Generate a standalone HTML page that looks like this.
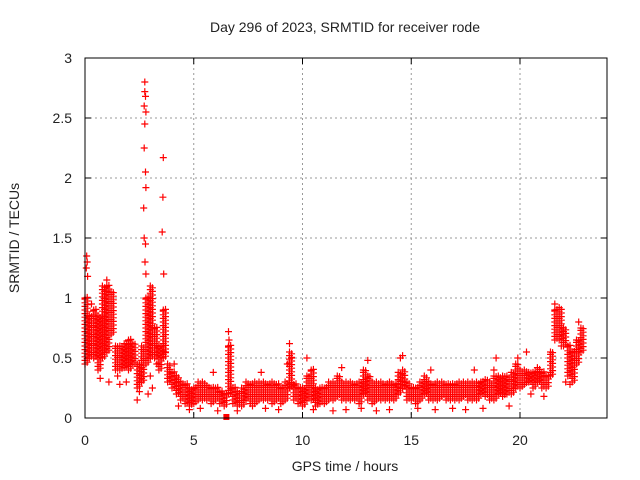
<!DOCTYPE html>
<html><head><meta charset="utf-8"><style>
body{margin:0;background:#fff}
svg{display:block;font-family:"Liberation Sans",sans-serif}
</style></head><body>
<svg id="chart" width="640" height="480" viewBox="0 0 640 480" xmlns="http://www.w3.org/2000/svg">
<rect width="640" height="480" fill="#fff"/>
<text x="345" y="32" font-size="14" text-anchor="middle" fill="#222">Day 296 of 2023, SRMTID for receiver rode</text>
<text x="345" y="471" font-size="14" text-anchor="middle" fill="#222">GPS time / hours</text>
<text transform="translate(19,238) rotate(-90)" font-size="14" text-anchor="middle" fill="#222">SRMTID / TECUs</text>
<g id="grid"></g>
<g id="ticks"></g>
<g id="marks"></g>
<rect x="85" y="58" width="522" height="360" fill="none" stroke="#000" stroke-width="1"/>
</svg>
<script>
const xTicks=[0,5,10,15,20];
const yTicks=[0,0.5,1,1.5,2,2.5,3];
const yTickLabels=["0","0.5","1","1.5","2","2.5","3"];
const times=[0,0.2,0.4,0.6,0.8,1,1.2,1.4,1.6,1.8,2,2.2,2.4,2.6,2.8,3,3.2,3.4,3.6,3.8,4,4.2,4.4,4.6,4.8,5,5.2,5.4,5.6,5.8,6,6.2,6.4,6.6,6.8,7,7.2,7.4,7.6,7.8,8,8.2,8.4,8.6,8.8,9,9.2,9.4,9.6,9.8,10,10.2,10.4,10.6,10.8,11,11.2,11.4,11.6,11.8,12,12.2,12.4,12.6,12.8,13,13.2,13.4,13.6,13.8,14,14.2,14.4,14.6,14.8,15,15.2,15.4,15.6,15.8,16,16.2,16.4,16.6,16.8,17,17.2,17.4,17.6,17.8,18,18.2,18.4,18.6,18.8,19,19.2,19.4,19.6,19.8,20,20.2,20.4,20.6,20.8,21,21.2,21.4,21.6,21.8,22,22.2,22.4,22.6,22.8];
const lowVals=[.45,.5,.5,.4,.5,.55,.7,.4,.4,.42,.4,.45,.25,.3,.45,.5,.5,.4,.5,.3,.25,.2,.15,.12,.1,.12,.15,.15,.15,.12,.15,.12,.1,.2,.12,.1,.1,.15,.12,.12,.15,.15,.15,.12,.15,.12,.15,.25,.15,.12,.1,.15,.15,.1,.12,.12,.15,.15,.18,.15,.15,.15,.15,.12,.2,.15,.12,.15,.15,.15,.15,.15,.2,.25,.15,.15,.12,.15,.2,.15,.15,.15,.18,.15,.15,.15,.15,.18,.15,.15,.15,.2,.18,.15,.15,.2,.18,.2,.2,.25,.25,.28,.3,.25,.3,.25,.25,.35,.65,.65,.6,.35,.3,.45,.55];
const highVals=[1.0,.85,.9,.85,1.1,1.1,1.05,.6,.6,.62,.65,.62,.45,.6,1.0,1.1,.75,.6,.9,.45,.38,.35,.3,.28,.25,.25,.3,.3,.27,.25,.25,.22,.2,.6,.25,.22,.25,.3,.28,.3,.3,.3,.28,.3,.28,.25,.3,.55,.28,.25,.25,.35,.4,.25,.25,.25,.3,.3,.35,.3,.3,.3,.28,.3,.4,.35,.3,.3,.3,.28,.3,.28,.38,.4,.3,.25,.25,.3,.35,.3,.28,.3,.3,.28,.28,.28,.3,.3,.3,.3,.3,.3,.32,.3,.35,.35,.35,.35,.38,.45,.4,.4,.38,.38,.42,.38,.35,.55,.9,.92,.75,.6,.55,.65,.75];
const outTimes=[2.75,2.75,2.78,2.72,2.8,2.75,2.72,2.78,2.8,2.7,2.72,2.78,2.76,2.8,3.6,3.58,3.55,3.62,0.08,0.1,0.06,0.12,6.6,6.62,9.4,14.6,18.9,21.6,1.0,0.3,
 0.7,1.1,1.5,1.6,1.9,2.4,2.5,2.9,3.0,3.1,3.3,3.7,4.3,4.8,5.3,6.1,7.0,7.7,8.3,8.9,9.3,9.5,10.2,10.5,11.4,12.0,12.7,13.4,14.0,14.5,15.3,16.1,16.9,17.5,18.3,18.8,19.5,20.5,21.1,21.9,22.1,22.3,22.7,4.1,5.9,8.1,11.8,13.0,15.9,17.9,19.9,20.3];
const outVals=[2.8,2.72,2.68,2.6,2.55,2.45,2.25,2.05,1.92,1.75,1.5,1.45,1.3,1.2,2.17,1.84,1.55,1.2,1.35,1.3,1.25,1.18,.72,.65,.62,.52,.5,.95,1.15,.95,
 .33,.3,.35,.28,.3,.15,.22,.2,.35,.25,.45,.55,.1,.07,.08,.06,.06,.1,.08,.07,.45,.5,.5,.07,.06,.07,.08,.06,.07,.5,.08,.07,.08,.07,.08,.4,.1,.2,.18,.6,.3,.28,.8,.45,.38,.38,.42,.48,.4,.4,.5,.55];
const X=t=>85+t*(522/24);
const Y=v=>418-v*120;
const NS="http://www.w3.org/2000/svg";
const grid=document.getElementById('grid'),ticks=document.getElementById('ticks'),marks=document.getElementById('marks');
function ln(p,x1,y1,x2,y2,st,dash){const l=document.createElementNS(NS,'line');l.setAttribute('x1',x1);l.setAttribute('y1',y1);l.setAttribute('x2',x2);l.setAttribute('y2',y2);l.setAttribute('stroke',st);if(dash)l.setAttribute('stroke-dasharray',dash);p.appendChild(l);return l;}
function tx(p,x,y,s,a){const t=document.createElementNS(NS,'text');t.setAttribute('x',x);t.setAttribute('y',y);t.setAttribute('font-size','14');t.setAttribute('fill','#222');t.setAttribute('text-anchor',a);t.textContent=s;p.appendChild(t);return t;}
xTicks.forEach(v=>{const x=X(v);
 if(v>0){const g=ln(grid,x,58,x,418,'#999','2,3');
 
 }
 ln(ticks,x,418,x,412,'#000');ln(ticks,x,58,x,64,'#000');
 const t=tx(ticks,x,445,String(v),'middle');
 
 });
yTicks.forEach((v,i)=>{const y=Y(v);
 if(v>0&&v<3){const g=ln(grid,85,y,607,y,'#999','2,3');
 
 }
 ln(ticks,85,y,91,y,'#000');ln(ticks,607,y,601,y,'#000');
 const t=tx(ticks,72,y+5,yTickLabels[i],'end');
 
 });
let d='';
function plus(t,v){const x=X(t),y=Y(v);d+=`M${(x-3.5).toFixed(1)} ${y.toFixed(1)}h7M${x.toFixed(1)} ${(y-3.5).toFixed(1)}v7`;}
times.forEach((t,i)=>{const lo=lowVals[i],hi=highVals[i];
 for(let v=lo;v<hi;v+=0.03){plus(t,v);plus(t+0.1,v+0.015);}
 plus(t,hi);});
outTimes.forEach((t,i)=>plus(t,outVals[i]));
const p=document.createElementNS(NS,'path');
p.setAttribute('d',d);p.setAttribute('stroke','#f00');p.setAttribute('stroke-width','1.2');p.setAttribute('fill','none');


marks.appendChild(p);
const sq=document.createElementNS(NS,'rect');
sq.setAttribute('x',X(6.5)-3);sq.setAttribute('y',414);sq.setAttribute('width',6);sq.setAttribute('height',6);sq.setAttribute('fill','#f00');


marks.appendChild(sq);
</script>
</body></html>
